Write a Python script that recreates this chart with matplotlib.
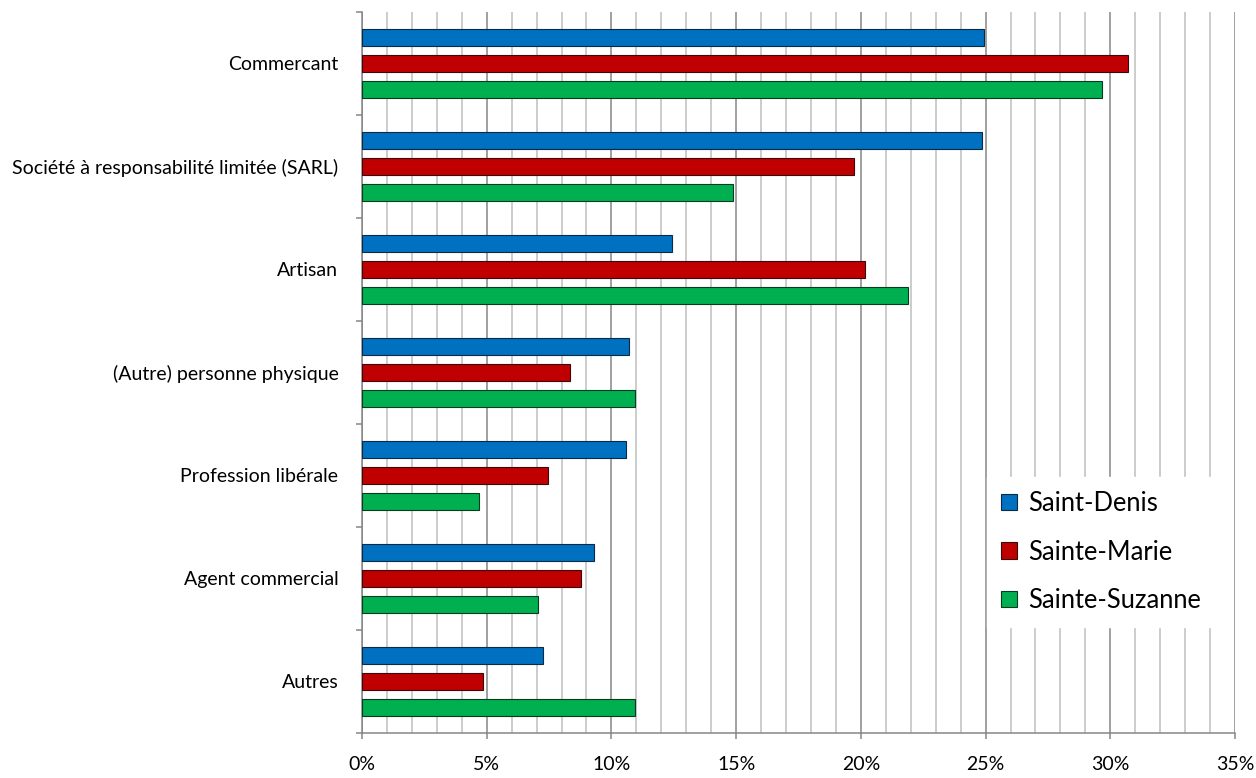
import numpy as np
import matplotlib.pyplot as plt
from matplotlib.patches import Patch
from matplotlib.ticker import FuncFormatter, MultipleLocator

plt.rcParams['font.family'] = ['Lato', 'DejaVu Sans']

# categories, top to bottom
categories = ['Commercant', 'Société à responsabilité limitée (SARL)', 'Artisan',
              '(Autre) personne physique', 'Profession libérale', 'Agent commercial', 'Autres']
series = ['Saint-Denis', 'Sainte-Marie', 'Sainte-Suzanne']
saint_denis = [24.95, 24.87, 12.42, 10.71, 10.57, 9.30, 7.24]
sainte_marie = [30.70, 19.74, 20.17, 8.34, 7.47, 8.78, 4.84]
sainte_suzanne = [29.68, 14.86, 21.88, 10.95, 4.70, 7.04, 10.95]
colors = ['#0070C0', '#C00000', '#00B050']
edges = ['#0B2A45', '#3A0A0A', '#0A3A1C']

fig = plt.figure(figsize=(12.56, 7.78), dpi=100)
ax = fig.add_axes([362 / 1256, 1 - 733 / 778, (1235 - 362) / 1256, (733 - 12) / 778])

centers = np.arange(len(categories)) + 0.5
offsets = [-0.25, 0.0, 0.25]
for vals, off, c, ec, name in zip([saint_denis, sainte_marie, sainte_suzanne], offsets, colors, edges, series):
    ax.barh(centers + off, vals, height=0.165, color=c, edgecolor=ec, linewidth=0.8, zorder=3, label=name)

ax.set_xlim(0, 35)
ax.set_ylim(len(categories), 0)

# gridlines: light every 1%, darker every 5%
ax.xaxis.set_major_locator(MultipleLocator(5))
ax.xaxis.set_minor_locator(MultipleLocator(1))
ax.xaxis.set_major_formatter(FuncFormatter(lambda v, p: '%d%%' % v))
ax.grid(axis='x', which='minor', color='#BFBFBF', linewidth=1.1, zorder=1)
ax.grid(axis='x', which='major', color='#868686', linewidth=1.1, zorder=1)
ax.set_axisbelow(True)

ax.set_yticks(centers)
ax.set_yticklabels(categories)
ax.set_yticks(np.arange(len(categories) + 1), minor=True)
ax.tick_params(axis='y', which='major', length=0, pad=17, labelsize=14)
ax.tick_params(axis='y', which='minor', length=4.5, width=1.1, color='#868686', direction='out')
ax.tick_params(axis='x', which='major', length=4.5, width=1.1, color='#868686', pad=12, labelsize=14)
ax.tick_params(axis='x', which='minor', length=0)

for s in ['top', 'right']:
    ax.spines[s].set_visible(False)
for s in ['left', 'bottom']:
    ax.spines[s].set_color('#868686')
    ax.spines[s].set_linewidth(1.1)

handles = [Patch(facecolor=c, edgecolor=ec, linewidth=0.8) for c, ec in zip(colors, edges)]
leg = ax.legend(handles, series, loc='upper left',
                bbox_to_anchor=(987 / 1256, 1 - 477 / 778), bbox_transform=fig.transFigure,
                fontsize=18.4, frameon=True, fancybox=False, framealpha=1.0,
                handlelength=0.63, handleheight=0.63, handletextpad=0.45,
                labelspacing=0.92, borderpad=0.55, borderaxespad=0)
leg.get_frame().set_edgecolor('white')
leg.get_frame().set_facecolor('white')

fig.savefig('out.png', dpi=100)
